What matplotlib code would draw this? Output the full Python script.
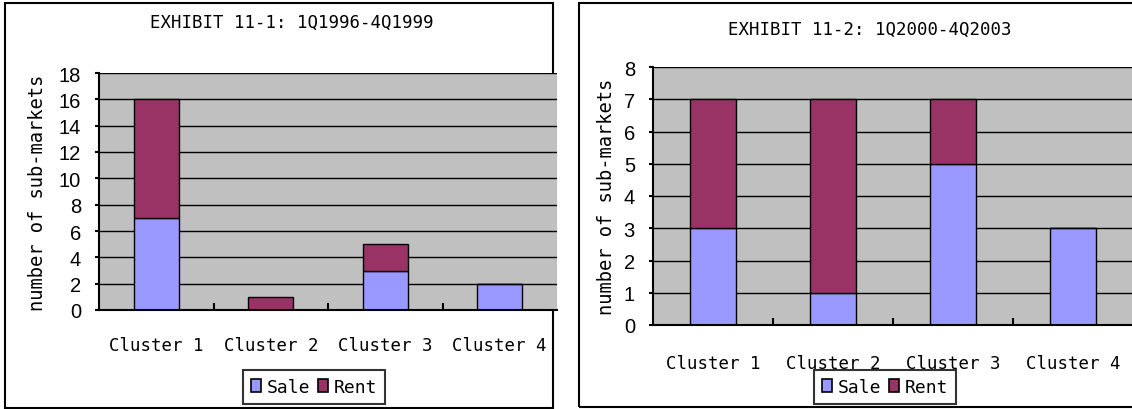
import matplotlib
matplotlib.use("Agg")
import matplotlib.pyplot as plt
from matplotlib.patches import Rectangle, Patch
import numpy as np

clusters = ["Cluster 1", "Cluster 2", "Cluster 3", "Cluster 4"]

# 1Q1996-4Q1999
sale_1 = [7, 0, 3, 2]
rent_1 = [9, 1, 2, 0]

# 1Q2000-4Q2003
sale_2 = [3, 1, 5, 3]
rent_2 = [4, 6, 2, 0]

SALE = "#9999FF"
RENT = "#993366"
BG = "#C0C0C0"
MONO = "DejaVu Sans Mono"
NUM = "Liberation Sans"

W, H = 1132, 410
fig = plt.figure(figsize=(W / 100, H / 100), dpi=100)


def px(x0, y0, x1, y1):
    # pixel box (top-left origin) -> figure fraction rect
    return [x0 / W, (H - y1) / H, (x1 - x0) / W, (y1 - y0) / H]


def panel(rect, sale, rent, ymax, xpad):
    ax = fig.add_axes(rect)
    ax.set_facecolor(BG)
    x = np.arange(len(clusters))
    ax.bar(x, sale, width=0.39, color=SALE, edgecolor="black", linewidth=1, zorder=3)
    ax.bar(x, rent, width=0.39, bottom=sale, color=RENT, edgecolor="black",
           linewidth=1, zorder=3)
    ax.set_xlim(-0.5, len(clusters) - 0.5)
    ax.set_ylim(0, ymax)
    step = 2 if ymax > 10 else 1
    ax.set_yticks(range(0, ymax + 1, step))
    ax.yaxis.grid(True, color="black", linewidth=1, zorder=1)
    ax.set_axisbelow(True)
    for s in ("top", "right"):
        ax.spines[s].set_visible(False)
    for s in ("left", "bottom"):
        ax.spines[s].set_linewidth(1.5)
        ax.spines[s].set_zorder(4)
    ax.tick_params(axis="y", direction="out", length=3, width=1.5, pad=10,
                   labelsize=14.5)
    for lab in ax.get_yticklabels():
        lab.set_fontfamily(NUM)
    ax.set_xticks(x)
    ax.set_xticklabels(clusters, fontfamily=MONO, fontsize=12.5)
    ax.tick_params(axis="x", which="major", length=0, pad=xpad)
    ax.set_xticks(np.arange(0.5, len(clusters) - 0.5), minor=True)
    ax.tick_params(axis="x", which="minor", direction="in", length=5, width=1.5)
    return ax


# panel frames
fig.add_artist(Rectangle((5 / W, (H - 409) / H), 548 / W, 405 / H,
                         transform=fig.transFigure, fill=False,
                         edgecolor="black", linewidth=1.5, zorder=0))
fig.add_artist(Rectangle((579 / W, (H - 408) / H), 600 / W, 404 / H,
                         transform=fig.transFigure, fill=False,
                         edgecolor="black", linewidth=1.5, zorder=0))

ax1 = panel(px(99, 74, 557, 311), sale_1, rent_1, 18, 19)
ax2 = panel(px(653, 68, 1133, 326), sale_2, rent_2, 8, 21)

fig.text(292 / W, 1 - 23 / H, "EXHIBIT 11-1: 1Q1996-4Q1999", ha="center",
         va="center", fontfamily=MONO, fontsize=12.5)
fig.text(870 / W, 1 - 30 / H, "EXHIBIT 11-2: 1Q2000-4Q2003", ha="center",
         va="center", fontfamily=MONO, fontsize=12.5)

fig.text(38 / W, 1 - 193 / H, "number of sub-markets", rotation=90,
         ha="center", va="center", fontfamily=MONO, fontsize=13.5)
fig.text(606 / W, 1 - 197 / H, "number of sub-markets", rotation=90,
         ha="center", va="center", fontfamily=MONO, fontsize=13.5)

handles = [Patch(facecolor=SALE, edgecolor="black", linewidth=1.2, label="Sale"),
           Patch(facecolor=RENT, edgecolor="black", linewidth=1.2, label="Rent")]
for cx in (314, 885):
    leg = fig.legend(handles=handles, loc="center", ncol=2,
                     bbox_to_anchor=(cx / W, 1 - 388 / H),
                     prop={"family": MONO, "size": 13},
                     frameon=True, fancybox=False, handlelength=0.6,
                     handleheight=0.7, handletextpad=0.3, columnspacing=0.4,
                     borderpad=0.45, borderaxespad=0)
    leg.get_frame().set_edgecolor("black")
    leg.get_frame().set_linewidth(1.5)

fig.savefig("out.png", dpi=100)
